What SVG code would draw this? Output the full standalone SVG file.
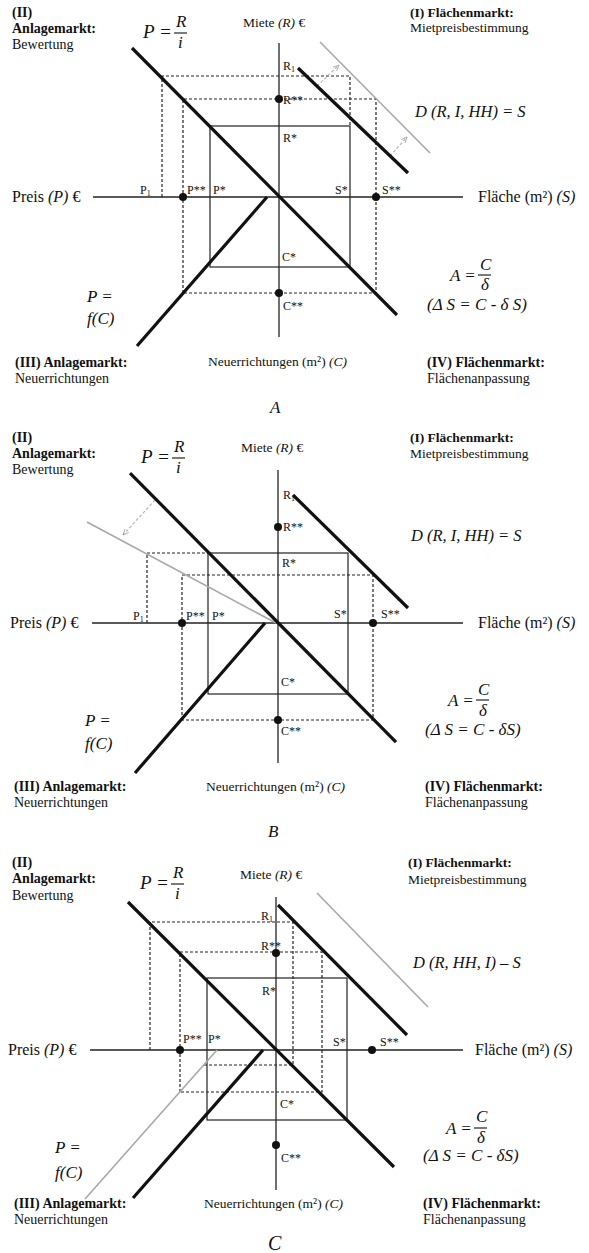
<svg xmlns="http://www.w3.org/2000/svg" width="589" height="1253" viewBox="0 0 589 1253">
<style>
.bg{fill:#fff}
.ax{stroke:#222;stroke-width:1.3;fill:none}
.thick{stroke:#111;stroke-width:3.2;fill:none;stroke-linecap:butt}
.gray{stroke:#a8a8a8;stroke-width:1.6;fill:none}
.garr{stroke:#b0b0b0;stroke-width:1.1;fill:none;stroke-dasharray:3 2}
.dash{stroke:#222;stroke-width:1.2;fill:none;stroke-dasharray:3 2}
.sol{stroke:#222;stroke-width:1.2;fill:none}
.dot{fill:#111}
text{font-family:"Liberation Serif","Times New Roman",serif;fill:#111}
.hd{font-size:14px;font-weight:bold}
.sub{font-size:14px}
.ax-l{font-size:16px}
.ax-s{font-size:13.5px}
.pt{font-size:12px}
.it{font-style:italic}
.eq{font-size:16.5px;font-style:italic}
.cap{font-size:17px;font-style:italic}
</style>
<defs>
<marker id="ah" viewBox="0 0 8 8" refX="7" refY="4" markerWidth="6" markerHeight="6" orient="auto"><path d="M0,1 L7,4 L0,7" fill="none" stroke="#a0a0a0" stroke-width="1"/></marker>
</defs>
<rect class="bg" x="0" y="0" width="589" height="1253"/>

<!-- ================= PANEL A ================= -->
<g id="panelA">
<g id="A-texts">
<text class="hd" x="12" y="17">(II)</text>
<text class="hd" x="12" y="33">Anlagemarkt:</text>
<text class="sub" x="12" y="49">Bewertung</text>
<text class="ax-s" x="243" y="27">Miete <tspan class="it">(R)</tspan> €</text>
<text class="hd" x="410" y="17" style="font-size:13.5px">(I) Flächenmarkt:</text>
<text class="ax-s" x="410" y="32">Mietpreisbestimmung</text>
<text class="ax-l" x="12" y="202">Preis <tspan class="it">(P)</tspan> €</text>
<text class="ax-l" x="478" y="202">Fläche (m²) <tspan class="it">(S)</tspan></text>
<text class="ax-s" x="208" y="366">Neuerrichtungen (m²) <tspan class="it">(C)</tspan></text>
<text class="hd" x="15" y="367">(III) Anlagemarkt:</text>
<text class="sub" x="15" y="383">Neuerrichtungen</text>
<text class="hd" x="427" y="367">(IV) Flächenmarkt:</text>
<text class="sub" x="427" y="383">Flächenanpassung</text>
<text class="eq" x="415" y="117">D (R, I, HH) = S</text>
<text class="cap" x="143" y="38" style="font-size:19px">P =</text>
<text class="cap" x="176" y="27">R</text>
<line class="sol" x1="174" y1="33" x2="187" y2="33"/>
<text class="cap" x="178" y="48">i</text>
<text class="cap" x="87" y="302">P =</text>
<text class="cap" x="87" y="324">f(C)</text>
<text class="cap" x="450" y="281">A =</text>
<text class="cap" x="480" y="270">C</text>
<line class="sol" x1="478" y1="275" x2="491" y2="275"/>
<text class="cap" x="481" y="290">δ</text>
<text class="cap" x="427" y="310">(Δ S = C - δ S)</text>
<text class="cap" x="270" y="413">A</text>
</g>
<g id="A-connectors">
<line class="ax" x1="279" y1="43" x2="279" y2="337"/>
<line class="ax" x1="93" y1="197" x2="463" y2="197"/>
<polyline class="dash" points="162,197 162,76 350,76 350,126"/>
<polyline class="dash" points="183,293 183,99 376,99 376,293 183,293"/>
<rect class="sol" x="210" y="126" width="140" height="141"/>
<line class="gray" x1="320" y1="42" x2="430" y2="153"/>
<line class="garr" x1="317" y1="86" x2="339" y2="65" marker-end="url(#ah)"/>
<line class="garr" x1="390" y1="156" x2="407" y2="137" marker-end="url(#ah)"/>
<line class="thick" x1="132" y1="48" x2="397" y2="315"/>
<line class="thick" x1="137" y1="346" x2="267" y2="197"/>
<line class="thick" x1="298" y1="68" x2="408" y2="173"/>
</g>
<g id="A-points">
<circle class="dot" cx="279" cy="99" r="4"/>
<circle class="dot" cx="183" cy="197" r="4"/>
<circle class="dot" cx="376" cy="197" r="4"/>
<circle class="dot" cx="279" cy="293" r="4"/>
<text class="pt" x="283" y="70">R<tspan font-size="8" dy="2">1</tspan></text>
<text class="pt" x="283" y="104">R**</text>
<text class="pt" x="283" y="142">R*</text>
<text class="pt" x="140" y="194">P<tspan font-size="8" dy="2">1</tspan></text>
<text class="pt" x="187" y="194">P**</text>
<text class="pt" x="213" y="194">P*</text>
<text class="pt" x="335" y="194">S*</text>
<text class="pt" x="382" y="194">S**</text>
<text class="pt" x="282" y="261">C*</text>
<text class="pt" x="283" y="310">C**</text>
</g>
</g>

<!-- ================= PANEL B ================= -->
<g id="panelB">
<g id="B-texts">
<text class="hd" x="12" y="442">(II)</text>
<text class="hd" x="12" y="458">Anlagemarkt:</text>
<text class="sub" x="12" y="474">Bewertung</text>
<text class="ax-s" x="241" y="452">Miete <tspan class="it">(R)</tspan> €</text>
<text class="hd" x="410" y="442" style="font-size:13.5px">(I) Flächenmarkt:</text>
<text class="ax-s" x="410" y="458">Mietpreisbestimmung</text>
<text class="ax-l" x="10" y="628">Preis <tspan class="it">(P)</tspan> €</text>
<text class="ax-l" x="478" y="628">Fläche (m²) <tspan class="it">(S)</tspan></text>
<text class="ax-s" x="206" y="791">Neuerrichtungen (m²) <tspan class="it">(C)</tspan></text>
<text class="hd" x="14" y="791">(III) Anlagemarkt:</text>
<text class="sub" x="14" y="807">Neuerrichtungen</text>
<text class="hd" x="425" y="791">(IV) Flächenmarkt:</text>
<text class="sub" x="425" y="807">Flächenanpassung</text>
<text class="eq" x="411" y="541">D (R, I, HH) = S</text>
<text class="cap" x="141" y="463" style="font-size:19px">P =</text>
<text class="cap" x="174" y="452">R</text>
<line class="sol" x1="172" y1="458" x2="185" y2="458"/>
<text class="cap" x="176" y="473">i</text>
<text class="cap" x="85" y="726">P =</text>
<text class="cap" x="85" y="749">f(C)</text>
<text class="cap" x="448" y="706">A =</text>
<text class="cap" x="478" y="695">C</text>
<line class="sol" x1="476" y1="700" x2="489" y2="700"/>
<text class="cap" x="479" y="716">δ</text>
<text class="cap" x="425" y="735">(Δ S = C - δS)</text>
<text class="cap" x="268" y="837">B</text>
</g>
<g id="B-connectors">
<line class="ax" x1="278" y1="470" x2="278" y2="763"/>
<line class="ax" x1="92" y1="623" x2="463" y2="623"/>
<polyline class="dash" points="147,623 147,553 208,553"/>
<polyline class="dash" points="182,720 182,575 373,575 373,720 182,720"/>
<rect class="sol" x="208" y="553" width="140" height="141"/>
<line class="gray" x1="87" y1="522" x2="276" y2="623"/>
<line class="garr" x1="155" y1="500" x2="123" y2="535" marker-end="url(#ah)"/>
<line class="thick" x1="130" y1="473" x2="396" y2="742"/>
<line class="thick" x1="135" y1="773" x2="265" y2="623"/>
<line class="thick" x1="293" y1="495" x2="408" y2="608"/>
</g>
<g id="B-points">
<circle class="dot" cx="278" cy="527" r="4"/>
<circle class="dot" cx="182" cy="623" r="4"/>
<circle class="dot" cx="373" cy="623" r="4"/>
<circle class="dot" cx="278" cy="720" r="4"/>
<text class="pt" x="283" y="499">R<tspan font-size="8" dy="2">1</tspan></text>
<text class="pt" x="283" y="531">R**</text>
<text class="pt" x="282" y="567">R*</text>
<text class="pt" x="133" y="620">P<tspan font-size="8" dy="2">1</tspan></text>
<text class="pt" x="186" y="620">P**</text>
<text class="pt" x="212" y="620">P*</text>
<text class="pt" x="334" y="618">S*</text>
<text class="pt" x="381" y="618">S**</text>
<text class="pt" x="281" y="686">C*</text>
<text class="pt" x="281" y="735">C**</text>
</g>
</g>

<!-- ================= PANEL C ================= -->
<g id="panelC">
<g id="C-texts">
<text class="hd" x="12" y="867">(II)</text>
<text class="hd" x="12" y="883">Anlagemarkt:</text>
<text class="sub" x="12" y="900">Bewertung</text>
<text class="ax-s" x="240" y="879">Miete <tspan class="it">(R)</tspan> €</text>
<text class="hd" x="408" y="867" style="font-size:13.5px">(I) Flächenmarkt:</text>
<text class="ax-s" x="408" y="884">Mietpreisbestimmung</text>
<text class="ax-l" x="8" y="1055">Preis <tspan class="it">(P)</tspan> €</text>
<text class="ax-l" x="475" y="1055">Fläche (m²) <tspan class="it">(S)</tspan></text>
<text class="ax-s" x="204" y="1208">Neuerrichtungen (m²) <tspan class="it">(C)</tspan></text>
<text class="hd" x="14" y="1208">(III) Anlagemarkt:</text>
<text class="sub" x="14" y="1224">Neuerrichtungen</text>
<text class="hd" x="423" y="1208">(IV) Flächenmarkt:</text>
<text class="sub" x="423" y="1224">Flächenanpassung</text>
<text class="eq" x="413" y="968">D (R, HH, I) – S</text>
<text class="cap" x="140" y="889" style="font-size:19px">P =</text>
<text class="cap" x="173" y="878">R</text>
<line class="sol" x1="171" y1="884" x2="184" y2="884"/>
<text class="cap" x="175" y="899">i</text>
<text class="cap" x="55" y="1153">P =</text>
<text class="cap" x="55" y="1178">f(C)</text>
<text class="cap" x="446" y="1134">A =</text>
<text class="cap" x="476" y="1122">C</text>
<line class="sol" x1="474" y1="1128" x2="487" y2="1128"/>
<text class="cap" x="477" y="1143">δ</text>
<text class="cap" x="423" y="1161">(Δ S = C - δS)</text>
<text class="cap" x="268" y="1250" style="font-size:20px">C</text>
</g>
<g id="C-connectors">
<line class="ax" x1="276" y1="897" x2="276" y2="1190"/>
<line class="ax" x1="90" y1="1050" x2="463" y2="1050"/>
<polyline class="dash" points="150,1050 150,922 293,922 293,1065 204,1065"/>
<polyline class="dash" points="180,1092 180,952 322,952 322,1092 180,1092"/>
<rect class="sol" x="207" y="978" width="140" height="142"/>
<line class="gray" x1="317" y1="893" x2="428" y2="1007"/>
<line class="gray" x1="85" y1="1199" x2="217" y2="1050"/>
<line class="thick" x1="128" y1="902" x2="394" y2="1167"/>
<line class="thick" x1="133" y1="1198" x2="263" y2="1050"/>
<line class="thick" x1="278" y1="905" x2="407" y2="1035"/>
</g>
<g id="C-points">
<circle class="dot" cx="276" cy="953" r="4"/>
<circle class="dot" cx="180" cy="1050" r="4"/>
<circle class="dot" cx="372" cy="1050" r="4"/>
<circle class="dot" cx="276" cy="1145" r="4"/>
<text class="pt" x="261" y="920">R<tspan font-size="8" dy="2">1</tspan></text>
<text class="pt" x="261" y="950">R**</text>
<text class="pt" x="262" y="995">R*</text>
<text class="pt" x="183" y="1043">P**</text>
<text class="pt" x="208" y="1043">P*</text>
<text class="pt" x="333" y="1046">S*</text>
<text class="pt" x="380" y="1046">S**</text>
<text class="pt" x="280" y="1108">C*</text>
<text class="pt" x="281" y="1162">C**</text>
</g>
</g>
</svg>
